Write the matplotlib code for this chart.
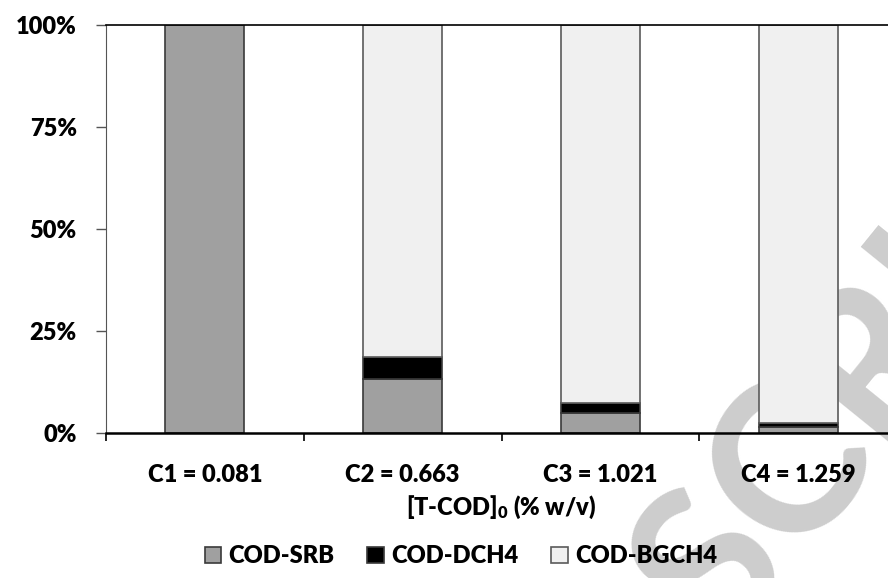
import matplotlib
matplotlib.use("Agg")
import matplotlib.pyplot as plt
import numpy as np

categories = ["C1 = 0.081", "C2 = 0.663", "C3 = 1.021", "C4 = 1.259"]
cod_srb = [100.0, 13.2, 5.0, 1.5]
cod_dch4 = [0.0, 5.4, 2.4, 1.0]
cod_bgch4 = [0.0, 81.4, 92.6, 97.5]
y_ticks = [0, 25, 50, 75, 100]

plt.rcParams["font.family"] = ["Lato", "DejaVu Sans"]
plt.rcParams["font.weight"] = 800
plt.rcParams["axes.labelweight"] = 800
plt.rcParams["mathtext.fontset"] = "custom"
plt.rcParams["mathtext.rm"] = "Lato:heavy"
plt.rcParams["mathtext.it"] = "Lato:heavy"
plt.rcParams["mathtext.bf"] = "Lato:heavy"

fs = 17

fig = plt.figure(figsize=(8.88, 5.78), dpi=100)
ax = fig.add_axes([106/888, 1-433/578, 791/888, 408/578])
ax.patch.set_alpha(0)

# watermark behind everything
fig.text(0.815, -0.125, "SCRIPT", fontsize=150, color="#cdcdcd", rotation=51,
         rotation_mode="anchor", ha="left", va="baseline", zorder=-5,
         fontweight="bold")

x = np.arange(len(categories))
w = 0.4
b1 = ax.bar(x, cod_srb, w, color="#a0a0a0", edgecolor="#3a3a3a", linewidth=1.2, label="COD-SRB")
b2 = ax.bar(x, cod_dch4, w, bottom=cod_srb, color="black", edgecolor="#3a3a3a", linewidth=1.2, label="COD-DCH4")
bot = np.array(cod_srb) + np.array(cod_dch4)
b3 = ax.bar(x, cod_bgch4, w, bottom=bot, color="#f0f0f0", edgecolor="#5a5a5a", linewidth=1.2, label="COD-BGCH4")

ax.set_xlim(-0.5, 3.5)
ax.set_ylim(0, 100)
ax.set_yticks(y_ticks)
ax.set_yticklabels([f"{t}%" for t in y_ticks], fontsize=fs)
ax.set_xticks(x)
ax.set_xticklabels(categories, fontsize=fs)
ax.set_xticks([-0.5, 0.5, 1.5, 2.5, 3.5], minor=True)
ax.tick_params(axis="x", which="major", length=0, pad=22)
ax.tick_params(axis="x", which="minor", length=6, width=1.2, direction="out")
ax.tick_params(axis="y", length=7, width=1.0, direction="out", color="#555555", pad=14)

ax.spines["right"].set_visible(False)
ax.spines["left"].set_color("#555555")
ax.spines["bottom"].set_linewidth(1.8)
ax.spines["top"].set_linewidth(1.2)

ax.set_xlabel(r"[T-COD]$_0$ (% w/v)", fontsize=fs, fontweight=800, labelpad=6)

fig.legend(handles=[b1, b2, b3], loc="center", bbox_to_anchor=(0.519, 0.038),
           ncol=3, frameon=False, fontsize=fs, handlelength=0.7, handleheight=0.7,
           handletextpad=0.3, columnspacing=1.4)

fig.savefig("out.png", dpi=100)
